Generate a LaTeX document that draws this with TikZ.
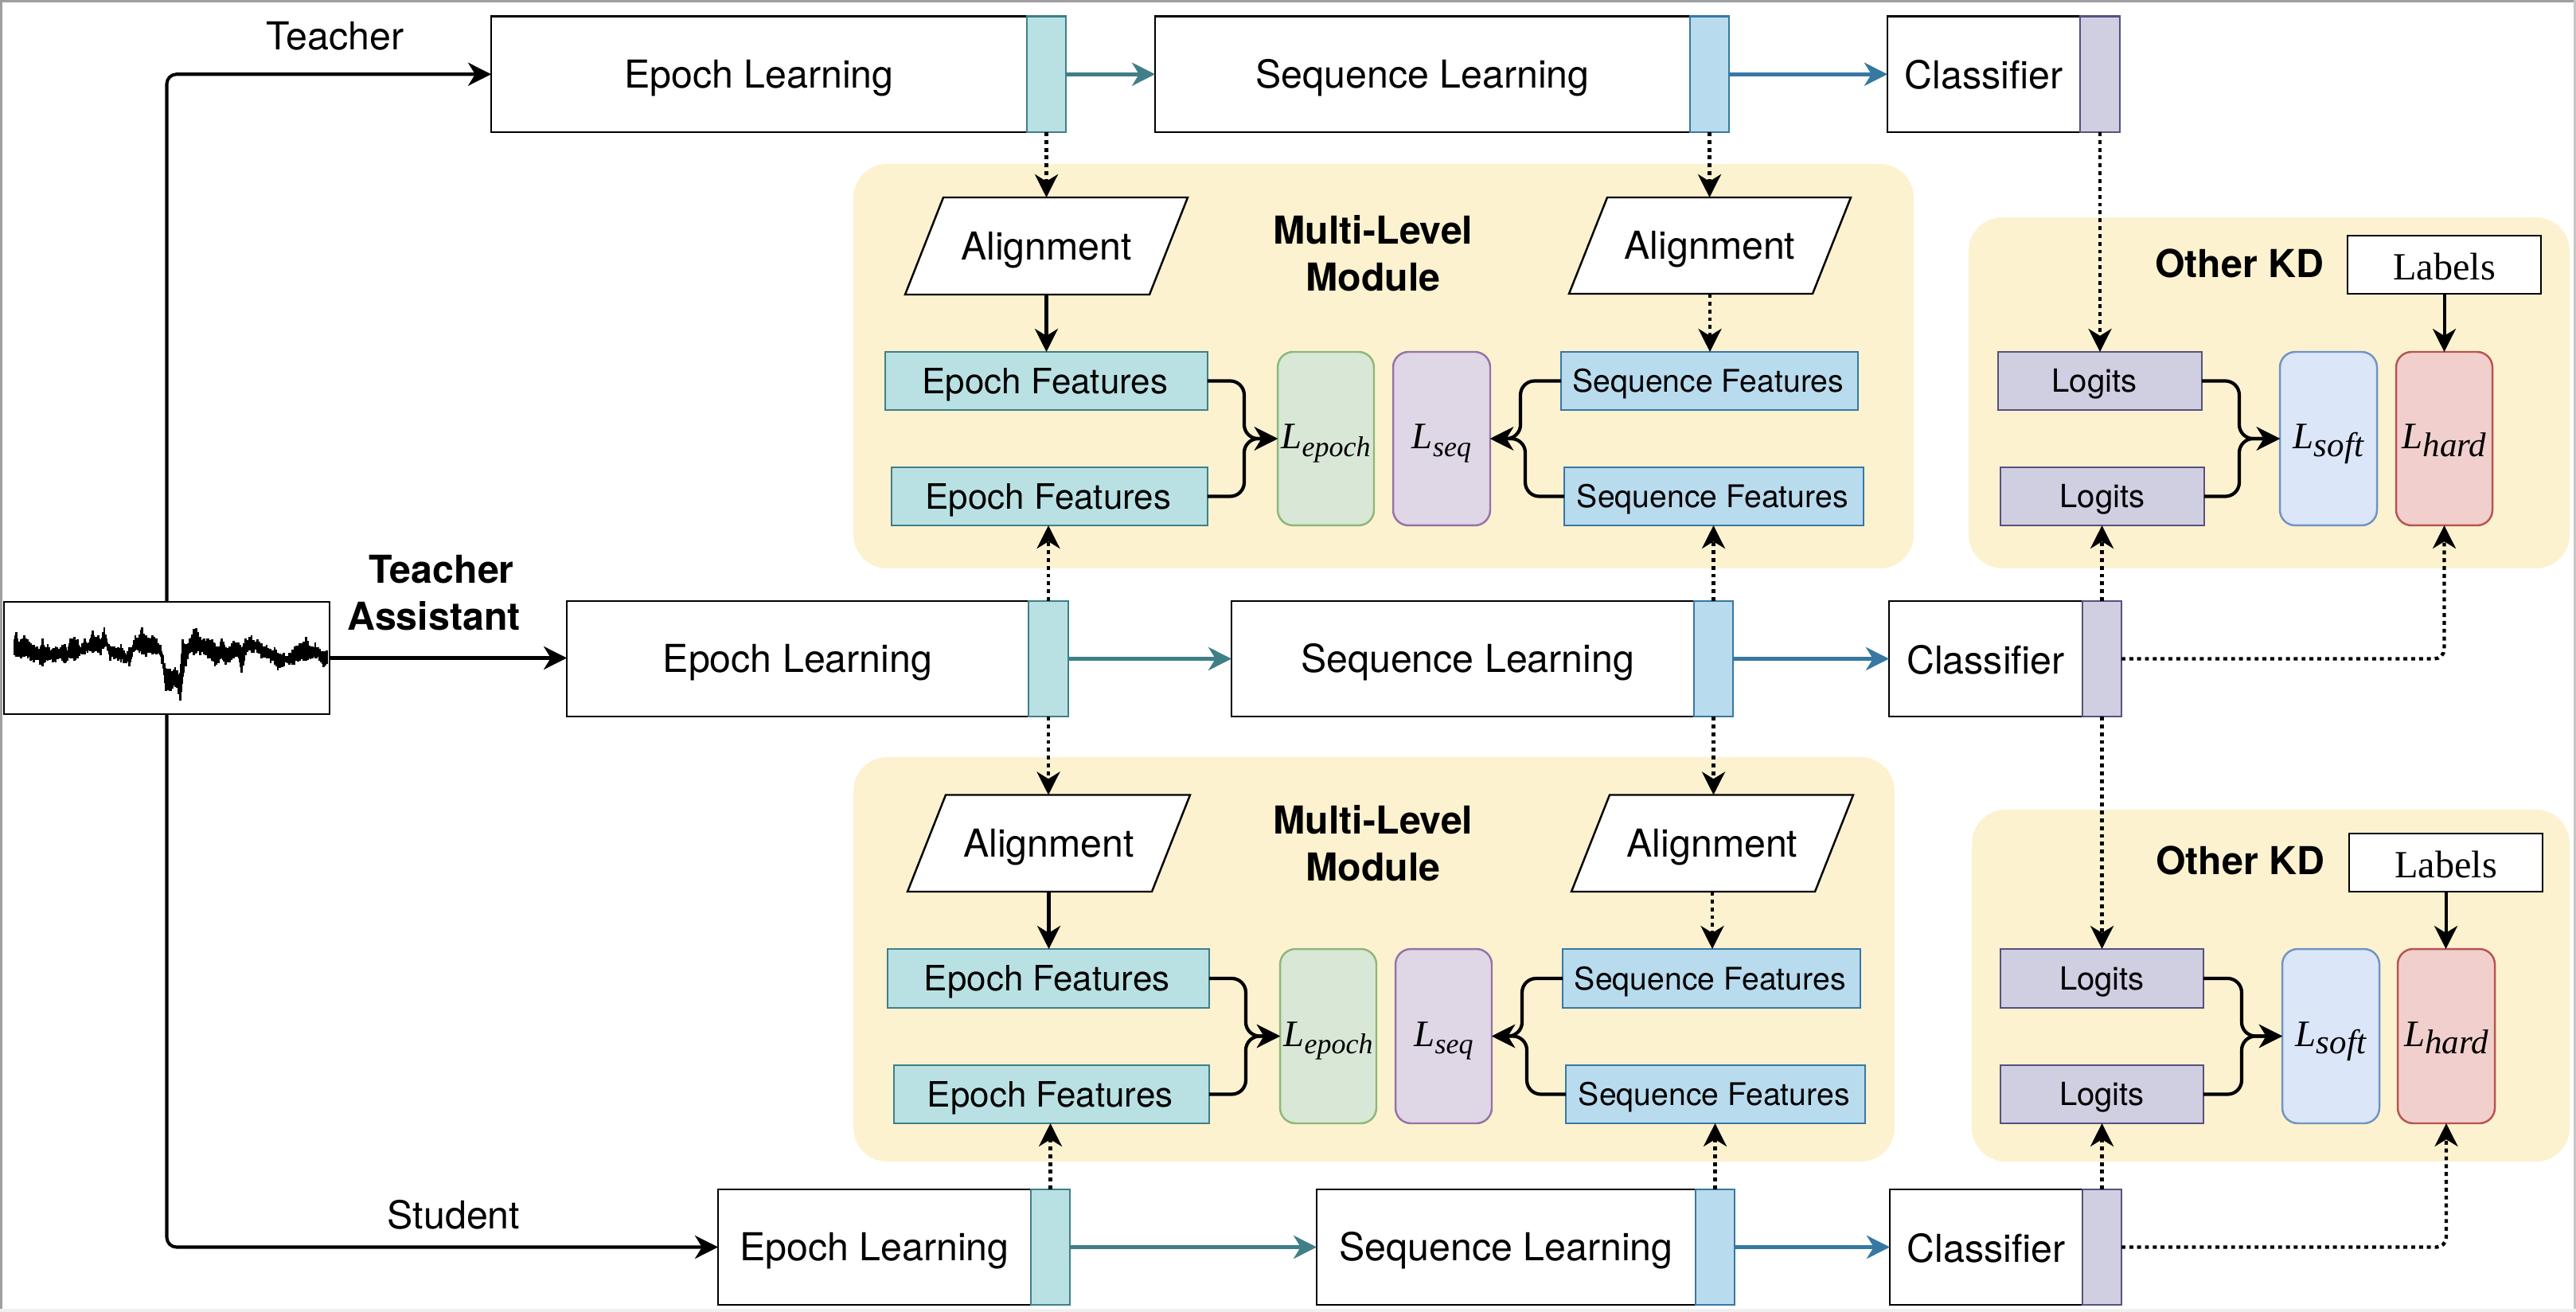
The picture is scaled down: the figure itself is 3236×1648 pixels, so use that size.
\documentclass[tikz,border=0pt]{standalone}
\usepackage{fontspec}
\usetikzlibrary{arrows.meta,calc}
\setmainfont{TeX Gyre Heros}
\newfontfamily\srf{Liberation Serif}
\definecolor{panelc}{HTML}{FCF2D0}
\definecolor{tealf}{HTML}{B9E1E3}
\definecolor{teald}{HTML}{3F7F88}
\definecolor{bluef}{HTML}{B8DBEE}
\definecolor{blued}{HTML}{3778A3}
\definecolor{purf}{HTML}{D0CEE1}
\definecolor{purd}{HTML}{56517E}
\definecolor{greenf}{HTML}{D9E7D6}
\definecolor{greend}{HTML}{8DB878}
\definecolor{lilf}{HTML}{DFD6E6}
\definecolor{lild}{HTML}{9673A6}
\definecolor{skyf}{HTML}{DBE6F9}
\definecolor{skyd}{HTML}{7094C4}
\definecolor{redf}{HTML}{F1CFCC}
\definecolor{redd}{HTML}{B85450}
\newcommand{\tstrut}{\vrule width 0pt height .905em depth .212em\relax}
\newcommand{\bstrut}{\vrule width 0pt height .94em depth .17em\relax}
\newcommand{\fA}{\fontsize{27.5}{33.5}\selectfont}
\newcommand{\fB}{\fontsize{25}{28}\selectfont}
\newcommand{\fC}{\fontsize{22.3}{26}\selectfont}
\newcommand{\fD}{\fontsize{22.8}{26}\selectfont}
\newcommand{\bx}[7]{%
  \pgfmathsetmacro{\bxw}{(#5-#3)*0.56906}%
  \pgfmathsetmacro{\bxh}{(#6-#4)*0.56906}%
  \node[#2,minimum width=\bxw pt,minimum height=\bxh pt] (#1) at ({(#3+#5)/2},{(#4+#6)/2}) {#7};}
\newcommand{\plgm}[5]{%
  \draw[paraline] (#2,#5) -- ({#2+48},#4) -- (#3,#4) -- ({#3-48},#5) -- cycle;
  \bx{#1}{plain}{#2}{#4}{#3}{#5}{\fA\bstrut Alignment}}
\newcommand{\lossname}[2]{{\srf\itshape\fontsize{26.7}{30}\selectfont\vrule width 0pt height 25pt depth 10.5pt\relax L\smash{\raisebox{-5.3pt}{\fontsize{#2}{24}\selectfont #1}}}}
\tikzset{
  x=0.02cm,y=-0.02cm,
  plain/.style={inner sep=0pt,outer sep=0pt},
  wbox/.style={plain,draw=black,fill=white,line width=1.5pt},
  tealbar/.style={plain,draw=teald,fill=tealf,line width=1.5pt},
  bluebar/.style={plain,draw=blued,fill=bluef,line width=1.5pt},
  purbar/.style={plain,draw=purd,fill=purf,line width=1.5pt},
  lossA/.style={plain,draw=greend,fill=greenf,line width=1.4pt,rounded corners=11pt},
  lossB/.style={plain,draw=lild,fill=lilf,line width=1.4pt,rounded corners=11pt},
  lossC/.style={plain,draw=skyd,fill=skyf,line width=1.4pt,rounded corners=11pt},
  lossD/.style={plain,draw=redd,fill=redf,line width=1.4pt,rounded corners=11pt},
  panel/.style={plain,fill=panelc,rounded corners=24pt},
  paraline/.style={draw=black,fill=white,line width=1.4pt,line join=miter},
  tipp/.style={-{Stealth[length=16.5pt,width=16.5pt,inset=5pt]}},
  solidarr/.style={tipp,line width=2.3pt,draw=black},
  mainarr/.style={tipp,line width=2.3pt,draw=black,rounded corners=7pt},
  mergearr/.style={tipp,line width=2.4pt,draw=black,rounded corners=10pt},
  dotarr/.style={tipp,line width=2.5pt,draw=black,dash pattern=on 2.8pt off 2.8pt,rounded corners=7pt},
  tealarr/.style={tipp,line width=2.8pt,draw=teald},
  bluearr/.style={tipp,line width=2.8pt,draw=blued},
  lab/.style={plain},
}
\begin{document}
\begin{tikzpicture}
\useasboundingbox (0,0) rectangle (3236,1648);
\fill[white] (0,0) rectangle (3236,1648);
\fill[gray!75] (0,0) rectangle (3,1648);
\fill[gray!75] (0,0) rectangle (3236,3);
\fill[gray!45] (3233,0) rectangle (3236,1648);
\fill[gray!12] (0,1644) rectangle (3236,1648);

% panels
\bx{mp1}{panel}{1072}{206}{2404}{714}{}
\bx{kp1}{panel}{2473}{273}{3228}{714}{}
\bx{mp2}{panel}{1072}{951}{2380}{1459}{}
\bx{kp2}{panel}{2477}{1017}{3228}{1459}{}

% signal
\bx{sig}{wbox}{5}{756}{414}{897}{}
\pgfmathsetseed{7}
\begin{scope}[shift={(0,770)},scale=0.33333]
\foreach \xa/\ta/\ba [remember=\xa as \xp (initially 55),remember=\ta as \tp (initially 100),remember=\ba as \bp (initially 160)] in {
62/72/165,70/120/165,80/100/170,92/85/165,105/100/170,115/115/180,128/120/185,140/125/175,150/135/195,160/95/200,170/140/185,180/118/180,190/140/175,200/135/185,210/125/185,220/135/170,235/120/180,245/118/190,255/140/180,265/95/170,280/90/180,292/100/170,300/125/160,310/115/155,320/95/155,330/115/150,340/100/145,350/65/150,360/90/145,370/85/150,380/100/160,393/55/130,405/110/140,415/125/180,430/125/175,445/130/180,456/118/185,470/150/190,487/130/200,497/130/165,510/85/140,525/80/150,535/55/155,550/85/165,565/95/150,575/85/155,590/95/155,605/120/160,615/160/210,625/210/295,640/210/295,645/225/295,660/205/280,680/225/330,688/100/240,700/120/200,715/95/150,730/60/160,740/58/150,755/90/160,770/95/155,785/95/170,800/100/180,810/115/200,825/125/190,835/95/170,850/130/195,865/125/185,880/105/170,900/110/170,910/130/225,925/95/160,948/85/150,970/100/150,985/115/170,1005/120/170,1020/135/190,1035/130/195,1047/150/215,1070/150/200,1090/150/195,1110/125/195,1130/115/180,1153/90/180,1170/125/175,1188/110/170,1205/135/180,1220/145/205,1235/130/185}
{
  \foreach \k in {0,0.34,0.67}{
    \pgfmathsetmacro{\zx}{\xp+\k*(\xa-\xp)}
    \pgfmathsetmacro{\ztop}{\tp+\k*(\ta-\tp)+(\k>0)*rnd*14}
    \pgfmathsetmacro{\zbot}{\bp+\k*(\ba-\bp)-(\k>0)*rnd*14}
    \draw[black,line width=1.7pt] (\zx,\ztop) -- (\zx,\zbot);
  }
}
\end{scope}

% teacher row
\bx{te}{wbox}{617}{20.5}{1290}{166}{\fA\bstrut Epoch Learning}
\bx{teb}{tealbar}{1290}{20.5}{1339}{166}{}
\bx{ts}{wbox}{1451}{20.5}{2123}{166}{\fA\bstrut Sequence Learning}
\bx{tsb}{bluebar}{2123}{20.5}{2172}{166}{}
\bx{tc}{wbox}{2371}{20.5}{2613}{166}{\fA\bstrut Classifier}
\bx{tcb}{purbar}{2613}{20.5}{2663}{166}{}

% assistant row
\bx{ae}{wbox}{712}{755}{1292}{900}{\fA\bstrut Epoch Learning}
\bx{aeb}{tealbar}{1292}{755}{1342}{900}{}
\bx{as}{wbox}{1547}{755}{2128}{900}{\fA\bstrut\hspace*{7pt}Sequence Learning}
\bx{asb}{bluebar}{2128}{755}{2177}{900}{}
\bx{ac}{wbox}{2373}{755}{2616}{900}{\fA\bstrut Classifier}
\bx{acb}{purbar}{2616}{755}{2665}{900}{}

% student row
\bx{se}{wbox}{902}{1494}{1295}{1639}{\fA\bstrut Epoch Learning}
\bx{seb}{tealbar}{1295}{1494}{1344}{1639}{}
\bx{ss}{wbox}{1654}{1494}{2130}{1639}{\fA\bstrut Sequence Learning}
\bx{ssb}{bluebar}{2130}{1494}{2179}{1639}{}
\bx{sc}{wbox}{2374}{1494}{2616}{1639}{\fA\bstrut Classifier}
\bx{scb}{purbar}{2616}{1494}{2665}{1639}{}

% upper multi-level module
\plgm{ua1}{1137}{1492}{248}{370}
\plgm{ua2}{1971}{2325}{248}{369}
\bx{uef1}{tealbar}{1112}{442}{1517}{515}{\fB\bstrut\hspace*{-2pt}Epoch Features}
\bx{uef2}{tealbar}{1120}{587}{1517}{660}{\fB\bstrut\hspace*{-2pt}Epoch Features}
\bx{ule}{lossA}{1605}{442}{1726}{660}{\lossname{epoch}{20.5}}
\bx{uls}{lossB}{1750}{442}{1872}{660}{\lossname{seq}{20.5}}
\bx{usf1}{bluebar}{1961}{442}{2334}{515}{\fC\bstrut\hspace*{-2pt}Sequence Features}
\bx{usf2}{bluebar}{1965}{587}{2341}{660}{\fC\bstrut\hspace*{-2pt}Sequence Features}
\node[lab,align=center,font=\fA\bfseries] (um) at (1725,318) {Multi-Level\\Module};

% lower multi-level module
\plgm{la1}{1140}{1495}{998.5}{1120}
\plgm{la2}{1974}{2328}{998.5}{1120}
\bx{lef1}{tealbar}{1115}{1192}{1519}{1266}{\fB\bstrut\hspace*{-2pt}Epoch Features}
\bx{lef2}{tealbar}{1123}{1338}{1519}{1411}{\fB\bstrut\hspace*{-2pt}Epoch Features}
\bx{lle}{lossA}{1608}{1192}{1729}{1411}{\lossname{epoch}{20.5}}
\bx{lls}{lossB}{1753}{1192}{1874}{1411}{\lossname{seq}{20.5}}
\bx{lsf1}{bluebar}{1963}{1192}{2337}{1266}{\fC\bstrut\hspace*{-2pt}Sequence Features}
\bx{lsf2}{bluebar}{1967}{1338}{2343}{1411}{\fC\bstrut\hspace*{-2pt}Sequence Features}
\node[lab,align=center,font=\fA\bfseries] (lm) at (1725,1059) {Multi-Level\\Module};

% upper KD
\node[lab,font=\fA\bfseries] (uk) at (2813,332) {\tstrut Other KD};
\bx{ulb}{wbox}{2949}{296}{3192}{369}{\srf\fA\bstrut Labels}
\bx{ulg1}{purbar}{2510}{442}{2766}{515}{\fD\bstrut\hspace*{-8pt}Logits}
\bx{ulg2}{purbar}{2513}{587}{2769}{660}{\fD\bstrut Logits}
\bx{uso}{lossC}{2864}{442}{2986}{660}{\lossname{soft}{24.5}}
\bx{uha}{lossD}{3010}{442}{3131}{660}{\lossname{hard}{24.5}}

% lower KD
\node[lab,font=\fA\bfseries] (lk) at (2814,1082) {\tstrut Other KD};
\bx{llb}{wbox}{2951}{1047}{3194}{1120}{\srf\fA\bstrut Labels}
\bx{llg1}{purbar}{2513}{1192}{2768}{1266}{\fD\bstrut Logits}
\bx{llg2}{purbar}{2513}{1338}{2768}{1411}{\fD\bstrut Logits}
\bx{lso}{lossC}{2867}{1192}{2989}{1411}{\lossname{soft}{24.5}}
\bx{lha}{lossD}{3012}{1192}{3134}{1411}{\lossname{hard}{24.5}}

% free labels
\node[lab,font=\fA] (tl) at (421,46) {\tstrut Teacher};
\node[lab,align=center,font=\fA\bfseries] (al) at (545,745) {\hspace*{11pt}Teacher\\Assistant};
\node[lab,font=\fA] (sl) at (570,1527) {\tstrut Student};

% input lines
\draw[mainarr] (sig.north) |- (te.west);
\draw[mainarr] (sig.east) -- (sig.east -| ae.west);
\draw[mainarr] (sig.south) |- (se.west);

% row arrows
\draw[tealarr] (teb.east) -- (ts.west);
\draw[bluearr] (tsb.east) -- (tc.west);
\draw[tealarr] (aeb.east) -- (as.west);
\draw[bluearr] (asb.east) -- (ac.west);
\draw[tealarr] (seb.east) -- (ss.west);
\draw[bluearr] (ssb.east) -- (sc.west);

% upper module connectors
\draw[dotarr] (teb.south) -- (teb.south |- ua1.north);
\draw[dotarr] (tsb.south) -- (tsb.south |- ua2.north);
\draw[solidarr] (ua1.south) -- (ua1.south |- uef1.north);
\draw[dotarr] (ua2.south) -- (ua2.south |- usf1.north);
\draw[dotarr] (aeb.north) -- (aeb.north |- uef2.south);
\draw[dotarr] (asb.north) -- (asb.north |- usf2.south);
\draw[mergearr] (uef1.east) -- ++(46,0) |- (ule.west);
\draw[mergearr] (uef2.east) -- ++(46,0) |- (ule.west);
\draw[mergearr] (usf1.west) -- ++(-51,0) |- (uls.east);
\draw[mergearr] (usf2.west) -- ++(-49,0) |- (uls.east);

% lower module connectors
\draw[dotarr] (aeb.south) -- (aeb.south |- la1.north);
\draw[dotarr] (asb.south) -- (asb.south |- la2.north);
\draw[solidarr] (la1.south) -- (la1.south |- lef1.north);
\draw[dotarr] (la2.south) -- (la2.south |- lsf1.north);
\draw[dotarr] (seb.north) -- (seb.north |- lef2.south);
\draw[dotarr] (ssb.north) -- (ssb.north |- lsf2.south);
\draw[mergearr] (lef1.east) -- ++(46,0) |- (lle.west);
\draw[mergearr] (lef2.east) -- ++(46,0) |- (lle.west);
\draw[mergearr] (lsf1.west) -- ++(-51,0) |- (lls.east);
\draw[mergearr] (lsf2.west) -- ++(-49,0) |- (lls.east);

% KD connectors
\draw[dotarr] (tcb.south) -- (tcb.south |- ulg1.north);
\draw[dotarr] (acb.north) -- (acb.north |- ulg2.south);
\draw[dotarr] (acb.south) -- (acb.south |- llg1.north);
\draw[dotarr] (scb.north) -- (scb.north |- llg2.south);
\draw[dotarr] (acb.east) -| (uha.south);
\draw[dotarr] (scb.east) -| (lha.south);
\draw[solidarr] (ulb.south) -- (ulb.south |- uha.north);
\draw[solidarr] (llb.south) -- (llb.south |- lha.north);
\draw[mergearr] (ulg1.east) -- ++(47,0) |- (uso.west);
\draw[mergearr] (ulg2.east) -- ++(44,0) |- (uso.west);
\draw[mergearr] (llg1.east) -- ++(48,0) |- (lso.west);
\draw[mergearr] (llg2.east) -- ++(48,0) |- (lso.west);
\end{tikzpicture}
\end{document}
